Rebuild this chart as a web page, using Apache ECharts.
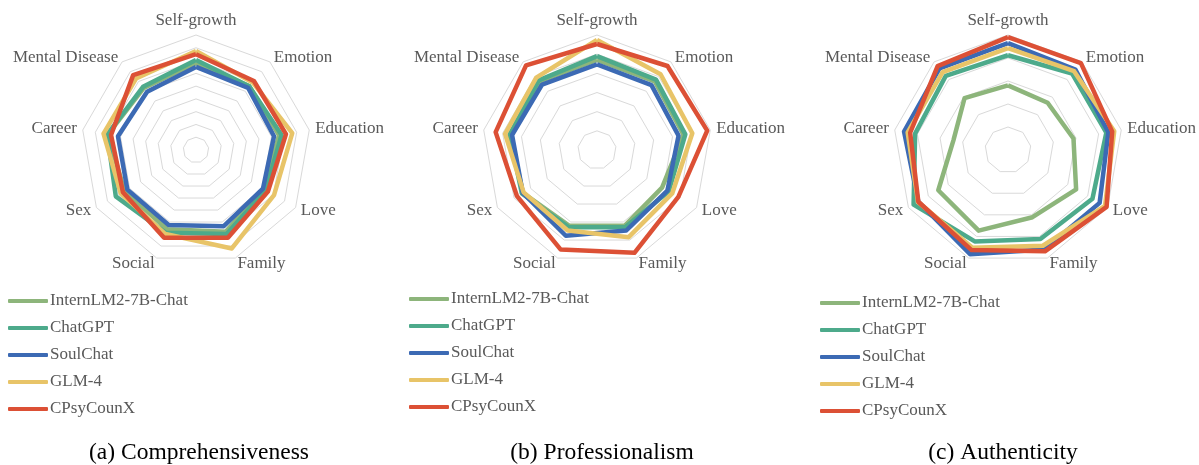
<!DOCTYPE html>
<html>
<head>
<meta charset="utf-8">
<script src="https://cdn.jsdelivr.net/npm/echarts@6/dist/echarts.min.js"></script>
<style>
body{margin:0;background:#fff;}
#main{width:1199px;height:465px;}
</style>
</head>
<body>
<div id="main"></div>
<script>
// axes, clockwise from the top
const categories = ['Self-growth', 'Emotion', 'Education', 'Love', 'Family', 'Social', 'Sex', 'Career', 'Mental Disease'];
const models = ['InternLM2-7B-Chat', 'ChatGPT', 'SoulChat', 'GLM-4', 'CPsyCounX'];
const colors = ['#8db57b', '#4daa8b', '#3c6ab4', '#e8c468', '#dc5035'];
const captions = ['(a) Comprehensiveness', '(b) Professionalism', '(c) Authenticity'];

// (a) Comprehensiveness
const compIntern = [6.8, 6.5, 6.6, 6.1, 6.8, 6.6, 6.45, 7.0, 6.35];
const compChatGPT = [7.05, 6.5, 6.8, 6.3, 7.0, 6.9, 7.25, 7.05, 6.45];
const compSoulChat = [6.5, 6.35, 6.2, 6.05, 6.35, 6.25, 6.2, 6.2, 5.95];
const compGLM = [7.75, 6.9, 7.65, 7.05, 8.2, 7.0, 6.8, 7.35, 7.3];
const compCPsy = [7.5, 7.05, 7.15, 6.5, 7.3, 7.3, 6.6, 6.75, 7.65];

// (b) Professionalism
const profIntern = [4.7, 4.68, 4.58, 3.92, 4.21, 4.21, 4.47, 4.58, 4.68];
const profChatGPT = [4.9, 4.79, 4.68, 4.32, 4.29, 4.29, 4.53, 4.63, 4.74];
const profSoulChat = [4.47, 4.42, 4.32, 4.24, 4.47, 4.76, 4.47, 4.5, 4.46];
const profGLM = [5.74, 5.16, 5.05, 4.53, 4.84, 4.47, 4.42, 4.87, 4.93];
const profCPsy = [5.53, 5.72, 5.84, 4.9, 5.71, 5.53, 4.82, 5.37, 5.76];

// (c) Authenticity
const authIntern = [2.81, 2.68, 2.89, 3.42, 3.11, 3.73, 3.5, 2.41, 2.94];
const authChatGPT = [4.12, 4.34, 4.34, 4.24, 4.12, 4.23, 4.74, 4.1, 4.21];
const authSoulChat = [4.65, 4.56, 4.43, 4.6, 4.6, 4.82, 4.5, 4.59, 4.63];
const authGLM = [4.43, 4.47, 4.69, 4.87, 4.43, 4.52, 4.52, 4.43, 4.42];
const authCPsy = [4.91, 4.93, 4.6, 4.95, 4.69, 4.63, 4.5, 4.32, 4.76];

const panels = [
    {data: [compIntern, compChatGPT, compSoulChat, compGLM, compCPsy], max: 9, cx: 196, legendX: 8, legendY: 291, capX: 199},
    {data: [profIntern, profChatGPT, profSoulChat, profGLM, profCPsy], max: 6, cx: 597, legendX: 409, legendY: 289, capX: 602},
    {data: [authIntern, authChatGPT, authSoulChat, authGLM, authCPsy], max: 5, cx: 1008, legendX: 820, legendY: 293, capX: 1003}
];

// echarts lays indicators out counter-clockwise, so flip everything after the first
function ccw(arr){
    return [arr[0]].concat(arr.slice(1).reverse());
}

const font = 'Liberation Serif';

const chart = echarts.init(document.getElementById('main'));
chart.setOption({
    animation: false,
    backgroundColor: '#fff',
    radar: panels.map(p => ({
        center: [p.cx, 150],
        radius: 115,
        startAngle: 90,
        shape: 'polygon',
        splitNumber: p.max,
        nameGap: 6,
        indicator: ccw(categories).map(n => ({name: n, min: 0, max: p.max})),
        axisName: {color: '#595959', fontFamily: font, fontSize: 17},
        axisLine: {show: false},
        axisTick: {show: false},
        axisLabel: {show: false},
        splitArea: {show: false},
        splitLine: {lineStyle: {color: '#d9d9d9', width: 1}}
    })),
    legend: panels.map(p => ({
        orient: 'vertical',
        left: p.legendX,
        top: p.legendY,
        padding: 0,
        icon: 'roundRect',
        itemWidth: 40,
        itemHeight: 4,
        itemGap: 7,
        selectedMode: false,
        textStyle: {color: '#595959', fontFamily: font, fontSize: 17, lineHeight: 20, padding: [0, 0, 0, -3]},
        data: models.map((m, j) => ({name: m, itemStyle: {color: colors[j]}}))
    })),
    series: panels.map((p, i) => ({
        type: 'radar',
        radarIndex: i,
        symbol: 'none',
        emphasis: {disabled: true},
        data: models.map((m, j) => ({
            name: m,
            value: ccw(p.data[j]),
            lineStyle: {color: colors[j], width: 4.5},
            itemStyle: {color: colors[j]}
        }))
    })),
    graphic: panels.map((p, i) => ({
        type: 'text',
        x: p.capX,
        y: 453,
        style: {
            text: captions[i],
            fill: '#000',
            font: '23.5px "Liberation Serif"',
            textAlign: 'center',
            textVerticalAlign: 'middle'
        }
    }))
});
</script>
</body>
</html>
